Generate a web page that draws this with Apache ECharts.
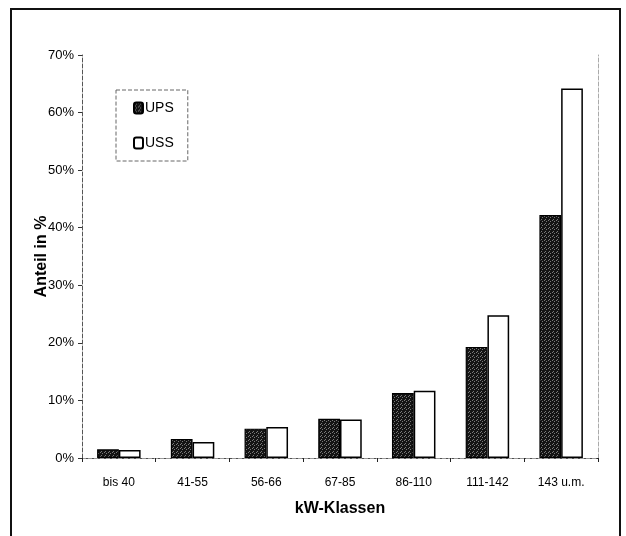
<!DOCTYPE html>
<html>
<head>
<meta charset="utf-8">
<script src="https://cdn.jsdelivr.net/npm/echarts@6/dist/echarts.min.js"></script>
<style>
  html, body { margin: 0; padding: 0; background: #fff; }
  #chart { width: 626px; height: 536px; }
</style>
</head>
<body>
<div id="chart"></div>
<script>
// kW classes and share per class (percent)
const categories = ['bis 40', '41-55', '56-66', '67-85', '86-110', '111-142', '143 u.m.'];
const seriesNames = ['UPS', 'USS'];
const upsValues = [1.5, 3.3, 5.1, 6.8, 11.3, 19.3, 42.2];
const ussValues = [1.4, 2.8, 5.4, 6.7, 11.7, 24.8, 64.2];
const yTicks = [0, 10, 20, 30, 40, 50, 60, 70];

// dark stippled fill for the UPS bars
function stipple() {
  const c = document.createElement('canvas');
  c.width = 4; c.height = 4;
  const g = c.getContext('2d');
  g.fillStyle = '#141414';
  g.fillRect(0, 0, 4, 4);
  g.fillStyle = '#7a7a7a';
  [[0, 0], [2, 1], [1, 3]].forEach(p => g.fillRect(p[0], p[1], 1, 1));
  return { image: c, repeat: 'repeat' };
}

const font = 'Liberation Sans, Arial, sans-serif';
const chart = echarts.init(document.getElementById('chart'), null, { renderer: 'canvas' });

chart.setOption({
  animation: false,
  backgroundColor: '#fff',
  textStyle: { fontFamily: font, color: '#000' },
  graphic: [{
    type: 'rect',
    shape: { x: 11, y: 9, width: 609, height: 540 },
    style: { fill: 'none', stroke: '#111', lineWidth: 2 },
    silent: true
  }],
  grid: { left: 82, top: 55, right: 28, bottom: 78 },
  legend: {
    data: seriesNames,
    orient: 'vertical',
    left: 116, top: 90,
    padding: [11, 14, 11, 17],
    itemWidth: 9, itemHeight: 11, itemGap: 21,
    borderColor: '#666', borderWidth: 1, borderType: 'dashed',
    textStyle: { fontFamily: font, fontSize: 14, color: '#000', padding: [0, 0, 0, -3] }
  },
  xAxis: [{
    type: 'category',
    data: categories,
    name: 'kW-Klassen',
    nameLocation: 'middle',
    nameGap: 43,
    nameTextStyle: { fontFamily: font, fontSize: 16, fontWeight: 'bold', color: '#000' },
    axisLine: { lineStyle: { color: '#222', width: 1 } },
    axisTick: { show: true, length: 4, lineStyle: { color: '#222' } },
    axisLabel: { fontFamily: font, fontSize: 12, color: '#000', margin: 19 }
  }, {
    type: 'category',
    data: categories,
    position: 'top',
    axisLine: { lineStyle: { color: '#999', type: 'dashed', width: 1 } },
    axisTick: { show: false },
    axisLabel: { show: false }
  }],
  yAxis: [{
    type: 'value',
    min: 0, max: 70, interval: 10,
    name: 'Anteil in %',
    nameLocation: 'middle',
    nameGap: 32,
    nameMoveOverlap: false,
    nameTextStyle: { fontFamily: font, fontSize: 16, fontWeight: 'bold', color: '#000' },
    axisLine: { show: true, lineStyle: { color: '#555', type: 'dashed', width: 1 } },
    axisTick: { show: true, length: 4, lineStyle: { color: '#333' } },
    axisLabel: {
      fontFamily: font, fontSize: 13, color: '#000', margin: 8,
      formatter: v => yTicks.includes(v) ? v + '%' : ''
    },
    splitLine: { show: false }
  }, {
    type: 'value',
    min: 0, max: 70, interval: 10,
    position: 'right',
    axisLine: { show: true, lineStyle: { color: '#aaa', type: 'dashed', width: 1 } },
    axisTick: { show: false },
    axisLabel: { show: false },
    splitLine: { show: false }
  }],
  series: [{
    name: 'UPS',
    type: 'bar',
    data: upsValues,
    barGap: '0%',
    barCategoryGap: '41%',
    itemStyle: { color: stipple(), borderColor: '#000', borderWidth: 1.2 }
  }, {
    name: 'USS',
    type: 'bar',
    data: ussValues,
    barGap: '0%',
    barCategoryGap: '41%',
    itemStyle: { color: '#fff', borderColor: '#000', borderWidth: 1.5 }
  }]
});
</script>
</body>
</html>
